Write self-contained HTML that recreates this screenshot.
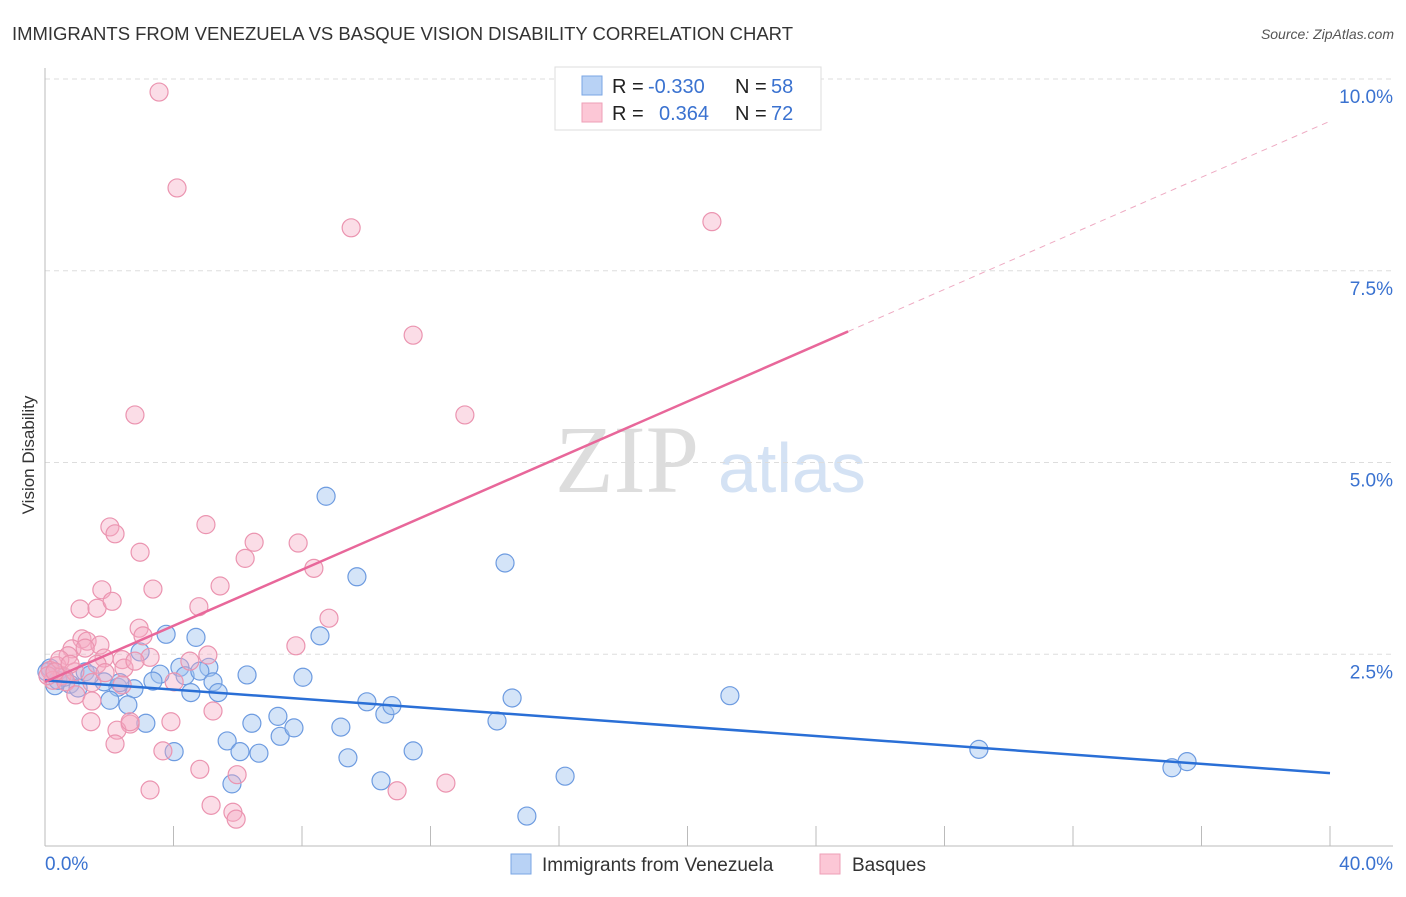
<!DOCTYPE html>
<html><head><meta charset="utf-8"><style>
body{margin:0;background:#fff;font-family:"Liberation Sans",sans-serif;}
</style></head><body>
<svg width="1406" height="892" xmlns="http://www.w3.org/2000/svg" font-family="Liberation Sans, sans-serif">
<text x="12" y="40" font-size="18.5" fill="#333" textLength="781">IMMIGRANTS FROM VENEZUELA VS BASQUE VISION DISABILITY CORRELATION CHART</text>
<text x="1394" y="39" font-size="14" fill="#555" font-style="italic" text-anchor="end">Source: ZipAtlas.com</text>
<text x="555" y="492" font-size="96" font-family="Liberation Serif, serif" fill="#ddd">ZIP</text>
<text x="718" y="492" font-size="70" fill="#d4e2f4">atlas</text>
<g id="grid"></g>
<g id="axes"></g>
<g id="pts"></g>
<g id="lines"></g>
<text transform="translate(34,455) rotate(-90)" font-size="17" fill="#333" text-anchor="middle">Vision Disability</text>
<g font-size="20">
<rect x="555" y="67" width="266" height="63" fill="#fff" stroke="#ddd"/>
<rect x="582" y="76" width="20" height="19" fill="#b8d2f5" stroke="#7aa6e4"/>
<rect x="582" y="103" width="20" height="19" fill="#fcc7d6" stroke="#ee9fb7"/>
<text x="612" y="93" fill="#222">R =</text>
<text x="648" y="93" fill="#3a72d0">-0.330</text>
<text x="735" y="93" fill="#222">N =</text>
<text x="771" y="93" fill="#3a72d0">58</text>
<text x="612" y="120" fill="#222">R =</text>
<text x="659" y="120" fill="#3a72d0">0.364</text>
<text x="735" y="120" fill="#222">N =</text>
<text x="771" y="120" fill="#3a72d0">72</text>
</g>
<g>
<rect x="511" y="854" width="20" height="20" fill="#b8d2f5" stroke="#7aa6e4"/>
<text x="542" y="871" font-size="19" fill="#333">Immigrants from Venezuela</text>
<rect x="820" y="854" width="20" height="20" fill="#fcc7d6" stroke="#ee9fb7"/>
<text x="852" y="871" font-size="19" fill="#333">Basques</text>
</g>
</svg>
<script>
const blueX=[8.75,9.71,14.32,3.77,4.70,8.56,2.96,4.20,5.1,6.29,8.03,3.58,4.36,4.82,3.36,5.23,5.39,4.54,2.77,2.27,1.84,1.25,0.78,0.31,0.16,1.4,2.02,2.58,3.14,4.02,5.67,6.07,6.44,6.66,7.25,7.32,7.75,5.82,9.21,9.43,10.02,10.58,10.80,10.46,11.46,14.07,14.54,15.0,16.19,21.32,29.07,35.08,35.55,0.4,0.6,0.06,2.33,1.03];
const blueY=[4.56,3.51,3.69,2.76,2.72,2.74,2.53,2.33,2.33,2.23,2.2,2.24,2.22,2.28,2.15,2.14,2.0,2.0,2.05,2.07,2.14,2.27,2.11,2.09,2.32,2.23,1.9,1.84,1.6,1.23,1.37,1.23,1.6,1.21,1.69,1.43,1.54,0.81,1.55,1.15,1.88,1.72,1.83,0.85,1.24,1.63,1.93,0.39,0.91,1.96,1.26,1.02,1.1,2.16,2.2,2.27,2.13,2.06];
const pinkX=[3.55,4.11,9.53,20.76,11.46,2.80,13.07,2.02,2.18,5.01,6.51,7.88,6.23,2.96,8.37,5.45,3.36,1.77,1.09,1.62,2.09,4.79,8.84,2.93,3.05,1.15,1.31,1.71,7.81,0.84,0.72,3.27,5.07,1.84,2.4,4.51,1.62,2.46,0.37,0.16,0.53,0.93,0.25,0.65,1.46,2.40,4.02,0.96,1.46,5.23,1.43,2.65,3.92,2.24,2.18,3.67,4.82,5.98,3.27,5.17,5.85,5.95,10.96,12.48,2.65,0.46,1.25,0.09,0.31,0.78,1.87,2.8];
const pinkY=[9.83,8.58,8.06,8.14,6.66,5.62,5.62,4.16,4.07,4.19,3.96,3.95,3.75,3.83,3.62,3.39,3.35,3.34,3.09,3.10,3.19,3.12,2.97,2.84,2.74,2.7,2.67,2.62,2.61,2.57,2.48,2.46,2.49,2.45,2.43,2.41,2.37,2.32,2.35,2.29,2.22,2.27,2.16,2.14,2.13,2.10,2.14,1.97,1.89,1.76,1.62,1.59,1.62,1.51,1.33,1.24,1.0,0.93,0.73,0.53,0.44,0.35,0.72,0.82,1.62,2.43,2.58,2.22,2.27,2.37,2.26,2.41];
const yTicks=[2.5,5.0,7.5,10.0];
const xTickVals=[4,8,12,16,20,24,28,32,36,40];
const blueTrend=[2.16,0.95];
const pinkTrend=[2.14,9.45];
const pinkSolidEnd=25;
const NS="http://www.w3.org/2000/svg";
const sx=v=>45+v*32.125, sy=v=>846-v*76.7;
function mk(t,a,p){const e=document.createElementNS(NS,t);for(const k in a)e.setAttribute(k,a[k]);document.getElementById(p).appendChild(e);return e;}
yTicks.forEach(v=>{
 const l=mk('line',{x1:45,x2:1393,y1:sy(v),y2:sy(v),stroke:'#ddd','stroke-dasharray':'5,4'},'grid');
 
 
 const t=mk('text',{x:1393,y:sy(v)+24,'font-size':19,fill:'#3a72d0','text-anchor':'end'},'grid');
 t.textContent=v.toFixed(1)+'%';
 
 
});
let a=mk('line',{x1:45,x2:45,y1:68,y2:846,stroke:'#bbb'},'axes');


a=mk('line',{x1:45,x2:1393,y1:846,y2:846,stroke:'#bbb'},'axes');


xTickVals.forEach(v=>{const t=mk('line',{x1:sx(v),x2:sx(v),y1:826,y2:846,stroke:'#bbb'},'axes');
 
 });
[[45,'start','0.0%'],[1393,'end','40.0%']].forEach(d=>{const t=mk('text',{x:d[0],y:870,'font-size':19,fill:'#3a72d0','text-anchor':d[1]},'axes');t.textContent=d[2];
 
 });
blueX.forEach((x,i)=>{const c=mk('circle',{cx:sx(x),cy:sy(blueY[i]),r:9,fill:'rgba(160,195,240,0.45)',stroke:'#6d9be0','stroke-width':1.2},'pts');
 
 });
pinkX.forEach((x,i)=>{const c=mk('circle',{cx:sx(x),cy:sy(pinkY[i]),r:9,fill:'rgba(245,170,195,0.4)',stroke:'#eb94b0','stroke-width':1.2},'pts');
 
 });
let l=mk('line',{x1:sx(0),y1:sy(blueTrend[0]),x2:sx(40),y2:sy(blueTrend[1]),stroke:'#2a6fd6','stroke-width':2.5},'lines');


const pAt=x=>pinkTrend[0]+(pinkTrend[1]-pinkTrend[0])*x/40;
l=mk('line',{x1:sx(0),y1:sy(pAt(0)),x2:sx(pinkSolidEnd),y2:sy(pAt(pinkSolidEnd)),stroke:'#e8679a','stroke-width':2.5},'lines');


l=mk('line',{x1:sx(pinkSolidEnd),y1:sy(pAt(pinkSolidEnd)),x2:sx(40),y2:sy(pAt(40)),stroke:'#eeaac2','stroke-width':1,'stroke-dasharray':'6,5'},'lines');


</script>
</body></html>
